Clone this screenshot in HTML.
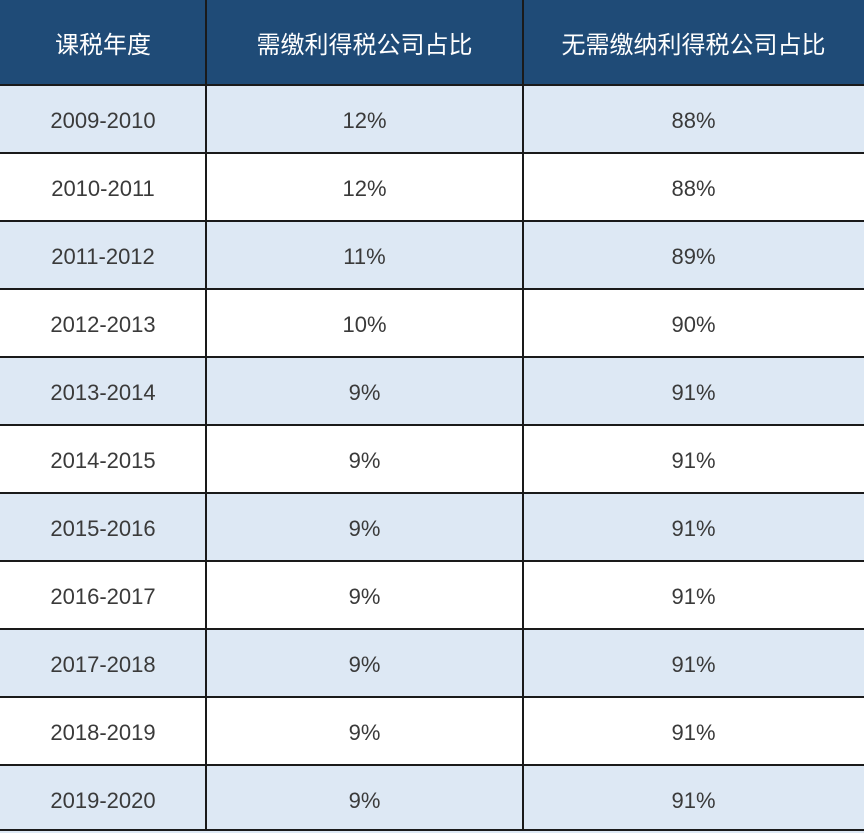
<!DOCTYPE html>
<html><head><meta charset="utf-8"><style>
body{margin:0;width:864px;height:831px;background:#fff;position:relative;overflow:hidden;font-family:"Liberation Sans","Noto Sans CJK SC",sans-serif}
.c{position:absolute;display:flex;align-items:center;justify-content:center;box-sizing:border-box}
.h{background:#1f4b77;color:#fff;font-size:24px;font-weight:normal}
.d{font-size:22px;color:#3a3a3a;padding-top:3px}
.b{background:#dde8f4}
.hl{position:absolute;left:0;width:864px;height:2px;background:#1a1a1a}
.vl{position:absolute;top:0;width:2px;height:831px;background:#1a1a1a}
</style></head><body>
<div class="c h" style="left:0;top:0;width:864px;height:85px"></div>
<div class="c h" style="left:0;top:0;width:206px;height:85px">课税年度</div>
<div class="c h" style="left:206px;top:0;width:317px;height:85px">需缴利得税公司占比</div>
<div class="c h" style="left:523px;top:0;width:341px;height:85px">无需缴纳利得税公司占比</div>
<div id="rows"></div>
<script>
var d=[["2009-2010","12%","88%"],["2010-2011","12%","88%"],["2011-2012","11%","89%"],["2012-2013","10%","90%"],["2013-2014","9%","91%"],["2014-2015","9%","91%"],["2015-2016","9%","91%"],["2016-2017","9%","91%"],["2017-2018","9%","91%"],["2018-2019","9%","91%"],["2019-2020","9%","91%"]];
var h="";
for(var i=0;i<11;i++){var t=85+i*68,cl=i%2==0?" b":"";
h+='<div class="c d'+cl+'" style="left:0;top:'+t+'px;width:864px;height:68px"></div>';
h+='<div class="c d" style="left:0;top:'+t+'px;width:206px;height:68px">'+d[i][0]+'</div>';
h+='<div class="c d" style="left:206px;top:'+t+'px;width:317px;height:68px">'+d[i][1]+'</div>';
h+='<div class="c d" style="left:523px;top:'+t+'px;width:341px;height:68px">'+d[i][2]+'</div>';
h+='<div class="hl" style="top:'+(t-1)+'px"></div>';}
h+='<div class="hl" style="top:829px"></div>';
h+='<div class="vl" style="left:205px"></div><div class="vl" style="left:522px"></div>';
document.getElementById("rows").innerHTML=h;
</script>
</body></html>
